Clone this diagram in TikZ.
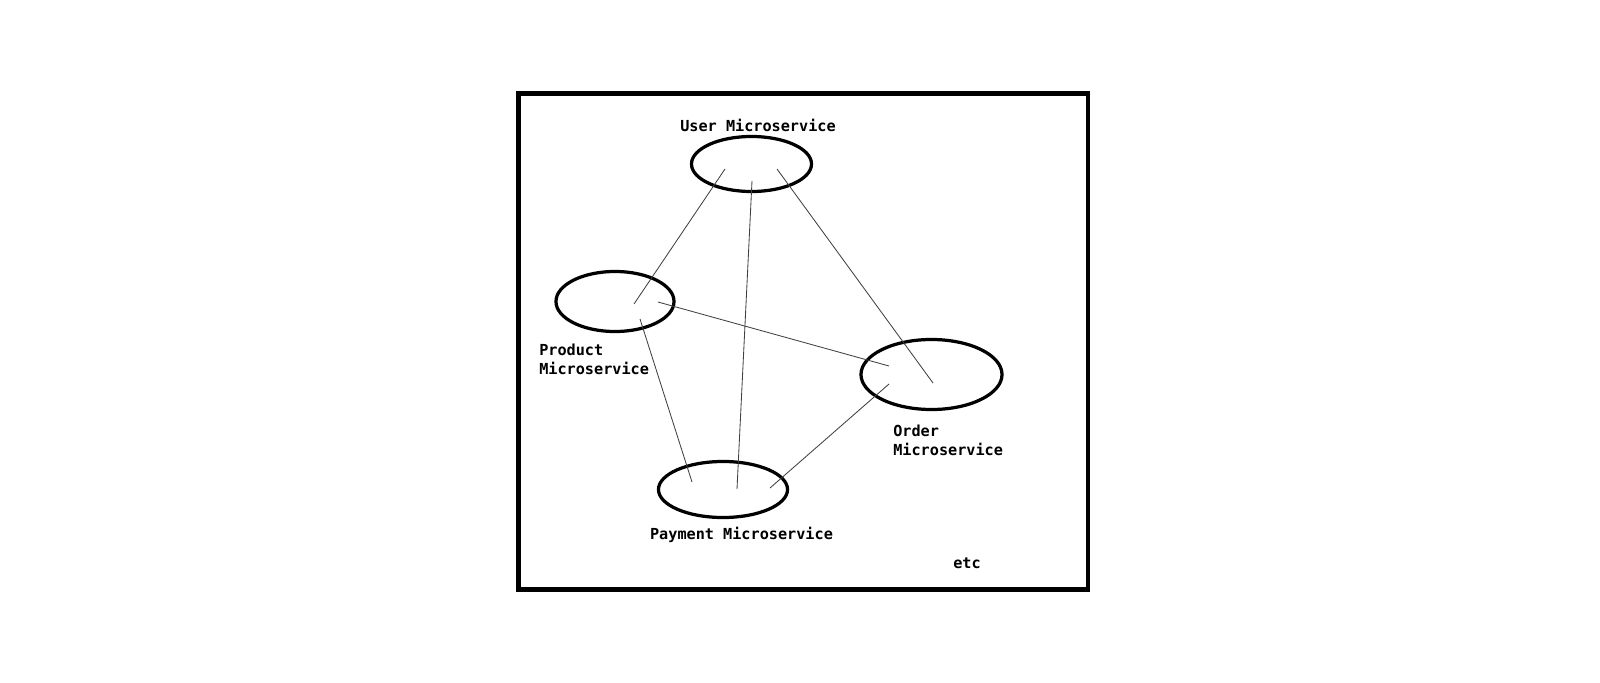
\documentclass[tikz,border=0pt]{standalone}
\usepackage{fontspec}
\setmonofont{DejaVu Sans Mono}
\usetikzlibrary{shapes.geometric}

\tikzset{
    service/.style={ellipse, draw, line width=2.3pt, inner sep=0pt},
    link/.style={draw=black!75, line width=0.6pt},
    caption/.style={font=\fontsize{10.8}{13.6}\selectfont\ttfamily\bfseries, inner sep=0pt}
}

\begin{document}
\begin{tikzpicture}[x=0.025cm, y=-0.025cm]
        \useasboundingbox (0,0) rectangle (1600,683);

        % Outer frame
        \draw[line width=3.5pt] (518.5,93.5) rectangle (1088,589.5);

        % Services
        \node[service, minimum width=3cm, minimum height=1.375cm] (user) at (751.5,164) {};
        \node[service, minimum width=2.95cm, minimum height=1.5cm] (product) at (615,301.5) {};
        \node[service, minimum width=3.525cm, minimum height=1.75cm] (order) at (931.5,374.5) {};
        \node[service, minimum width=3.225cm, minimum height=1.4cm] (payment) at (723,489.5) {};

        % Labels
        \node[caption, anchor=base] (userlbl) at (758,132) {User Microservice};
        \node[caption, align=left, anchor=west] (productlbl) at (539,359) {Product\\Microservice};
        \node[caption, align=left, anchor=west] (orderlbl) at (893,440) {Order\\Microservice};
        \node[caption, anchor=base] (paymentlbl) at (741.5,539) {Payment Microservice};
        \node[caption, anchor=base] (etc) at (967,568) {etc};

        % Links between services
        \draw[link] ([shift={(-26.5,5)}]user.center) -- ([shift={(19,2.5)}]product.center);
        \draw[link] ([shift={(0.5,17)}]user.center) -- ([shift={(14,-0.5)}]payment.center);
        \draw[link] ([shift={(25.5,5)}]user.center) -- ([shift={(1.5,8.5)}]order.center);
        \draw[link] ([shift={(43,0.5)}]product.center) -- ([shift={(-42.5,-8.5)}]order.center);
        \draw[link] ([shift={(25,17.5)}]product.center) -- ([shift={(-31,-7.5)}]payment.center);
        \draw[link] ([shift={(-42.5,9.5)}]order.center) -- ([shift={(47,-1.5)}]payment.center);

    \end{tikzpicture}
\end{document}
